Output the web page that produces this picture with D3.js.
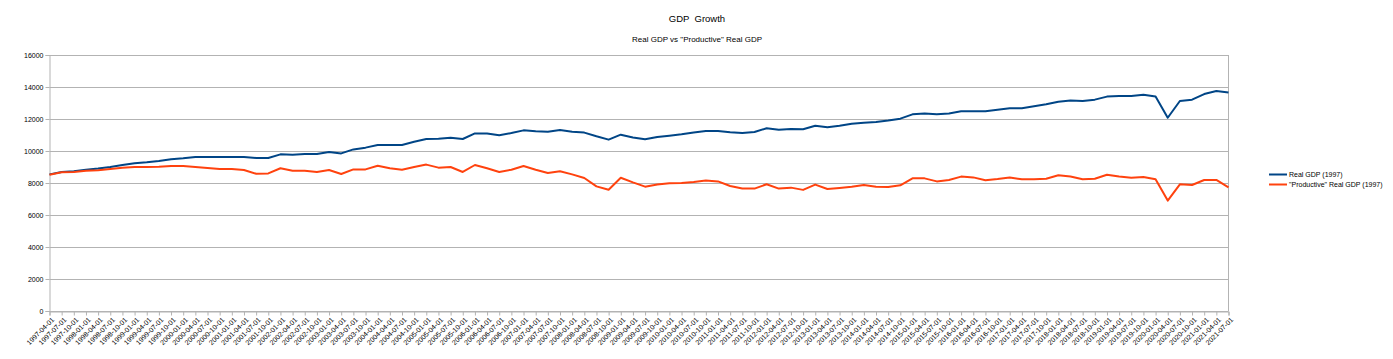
<!DOCTYPE html>
<html>
<head>
<meta charset="utf-8">
<script src="https://cdn.jsdelivr.net/npm/d3@7"></script>
<style>
  body { margin: 0; background: #fff; }
  text { font-family: "Liberation Sans", Arial, sans-serif; fill: #000; }
</style>
</head>
<body>
<div id="chart"></div>
<script>
// quarterly categories 1997-04-01 .. 2021-07-01
const quarters = d3.utcMonth.every(3).range(new Date(Date.UTC(1997, 3, 1)), new Date(Date.UTC(2021, 7, 1)));
const fmt = d3.utcFormat("%Y-%m-%d");
const categories = quarters.map(fmt);

const realGdp = [
  8540, 8690, 8730, 8830, 8900, 9000, 9120, 9230, 9290, 9370,
  9480, 9540, 9620, 9620, 9620, 9620, 9620, 9560, 9560, 9790,
  9770, 9810, 9810, 9940, 9850, 10100, 10210, 10375, 10375, 10375,
  10580, 10750, 10770, 10830, 10750, 11100, 11100, 10980, 11120, 11290,
  11230, 11210, 11310, 11210, 11150, 10920, 10710, 11020, 10850, 10730,
  10875, 10960, 11040, 11150, 11250, 11250, 11170, 11120, 11190, 11420,
  11330, 11375, 11360, 11580, 11480, 11580, 11710, 11770, 11810, 11900,
  12020, 12290, 12350, 12290, 12350, 12480, 12480, 12480, 12580, 12670,
  12670, 12790, 12920, 13080, 13150, 13125, 13210, 13400, 13440, 13440,
  13520, 13400, 12080, 13125, 13210, 13560, 13750, 13650
];

const productiveGdp = [
  8520, 8670, 8690, 8770, 8790, 8875, 8960, 9000, 9000, 9020,
  9060, 9060, 9000, 8940, 8875, 8875, 8810, 8580, 8600, 8920,
  8770, 8770, 8690, 8810, 8560, 8850, 8850, 9080, 8920, 8830,
  9000, 9150, 8960, 9000, 8690, 9125, 8920, 8690, 8830, 9060,
  8830, 8625, 8730, 8540, 8310, 7790, 7580, 8330, 8040, 7770,
  7900, 7980, 8000, 8060, 8150, 8100, 7810, 7650, 7650, 7920,
  7650, 7710, 7570, 7900, 7625, 7690, 7770, 7875, 7770, 7750,
  7855, 8290, 8290, 8100, 8190, 8400, 8350, 8170, 8250, 8350,
  8230, 8230, 8270, 8480, 8400, 8230, 8270, 8520, 8400, 8330,
  8375, 8230, 6900, 7920, 7875, 8190, 8190, 7730
];

const yTicks = [0, 2000, 4000, 6000, 8000, 10000, 12000, 14000, 16000];

const series = [
  { name: "Real GDP (1997)", values: realGdp, color: "#004586" },
  { name: "\"Productive\" Real GDP (1997)", values: productiveGdp, color: "#ff420e" }
];

const width = 1393, height = 359;
const svg = d3.select("#chart").append("svg")
  .attr("width", width).attr("height", height);

const x = d3.scalePoint().domain(categories).range([49.5, 1228.5]);
const y = d3.scaleLinear().domain([0, 16000]).range([311, 55]);

// titles
svg.append("text").attr("x", 697).attr("y", 22).attr("text-anchor", "middle")
  .attr("xml:space", "preserve").style("white-space", "pre")
  .style("font-size", "9.5px").text("GDP  Growth");
svg.append("text").attr("x", 697).attr("y", 41.5).attr("text-anchor", "middle")
  .style("font-size", "8px").text("Real GDP vs \"Productive\" Real GDP");

// gridlines
svg.append("g").selectAll("line").data(yTicks).enter().append("line")
  .attr("x1", 49.5).attr("x2", 1228.5)
  .attr("y1", d => Math.round(y(d)) + 0.5).attr("y2", d => Math.round(y(d)) + 0.5)
  .attr("stroke", "#b3b3b3").attr("stroke-width", 1);

// y axis
const yAxis = svg.append("g").attr("transform", "translate(49.5,0)")
  .call(d3.axisLeft(y).tickValues(yTicks).tickSize(4).tickFormat(d3.format("d")));
yAxis.select(".domain").attr("stroke", "#b3b3b3");
yAxis.selectAll(".tick line").attr("stroke", "#b3b3b3");
yAxis.selectAll(".tick text").style("font-size", "7px").attr("x", -6)
  .style("font-family", "Liberation Sans, Arial, sans-serif");

// right border
svg.append("line").attr("x1", 1228.5).attr("x2", 1228.5).attr("y1", 55).attr("y2", 311)
  .attr("stroke", "#b3b3b3");

// x axis
const xAxis = svg.append("g").attr("transform", "translate(0,311.5)")
  .call(d3.axisBottom(x).tickSize(4));
xAxis.select(".domain").attr("stroke", "#b3b3b3");
xAxis.selectAll(".tick line").attr("stroke", "#b3b3b3");
xAxis.selectAll(".tick text")
  .style("font-size", "7px")
  .style("font-family", "Liberation Sans, Arial, sans-serif")
  .attr("text-anchor", "end")
  .attr("dy", "0.35em")
  .attr("transform", "translate(3,7) rotate(-45)")
  .attr("y", 0).attr("x", 0);

// lines
const line = d3.line().x((d, i) => x(categories[i])).y(d => y(d));
svg.append("g").selectAll("path").data(series).enter().append("path")
  .attr("d", d => line(d.values))
  .attr("fill", "none")
  .attr("stroke", d => d.color)
  .attr("stroke-width", 2)
  .attr("stroke-linejoin", "round");

// legend
const legend = svg.append("g").selectAll("g").data(series).enter().append("g")
  .attr("transform", (d, i) => `translate(1269,${174.5 + i * 10})`);
legend.append("line").attr("x1", 0).attr("x2", 18)
  .attr("stroke", d => d.color).attr("stroke-width", 2);
legend.append("text").attr("x", 20).attr("y", 2.5)
  .style("font-size", "7px").text(d => d.name);
</script>
</body>
</html>
